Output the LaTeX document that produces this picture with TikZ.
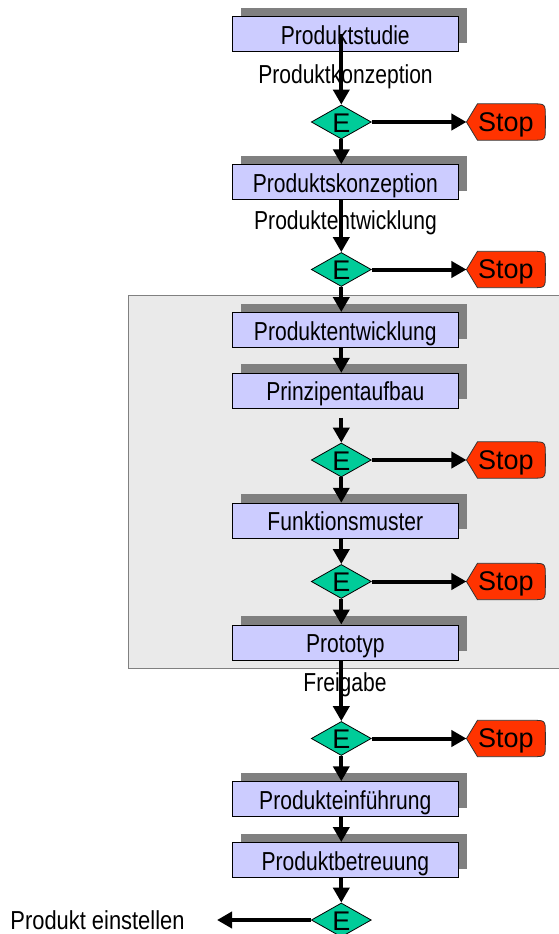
\documentclass[tikz,border=0pt]{standalone}
\usepackage{fontspec}
\setmainfont{Liberation Sans}
\newfontfamily\narrowsans{Liberation Sans}[FakeStretch=0.81]
\usetikzlibrary{arrows.meta,shapes.geometric,shadows,calc}
\definecolor{boxfill}{HTML}{CCCCFF}
\definecolor{shadowgray}{HTML}{808080}
\definecolor{decfill}{HTML}{00CC99}
\definecolor{stopfill}{HTML}{FF3300}
\definecolor{panelfill}{HTML}{EAEAEA}
\definecolor{panelline}{HTML}{808080}
\pgfdeclarelayer{panel}
\pgfdeclarelayer{signs}
\pgfsetlayers{panel,signs,main}
\newcommand{\decmark}{\raisebox{-10pt}[0pt][0pt]{\makebox[0pt]{E}}}

\begin{document}
\begin{tikzpicture}[x=1pt,y=-1pt,
  stagebox/.style={draw=black, line width=0.9pt, fill=boxfill,
    minimum width=226pt, minimum height=35pt, inner sep=0pt,
    text height=22pt, text depth=2pt,
    font=\narrowsans\fontsize{26}{30}\selectfont,
    general shadow={fill=shadowgray, shadow xshift=8.5pt, shadow yshift=9pt}},
  decision/.style={diamond, draw=black, line width=0.8pt, fill=decfill,
    minimum width=60pt, minimum height=34pt, inner sep=0pt,
    font=\fontsize{27}{30}\selectfont},
  stopsign/.style={minimum width=78.5pt, minimum height=36pt, inner sep=0pt,
    text height=20pt, text depth=2pt, font=\fontsize{27}{30}\selectfont},
  phase/.style={anchor=base, inner sep=0pt,
    font=\narrowsans\fontsize{26}{30}\selectfont},
  flow/.style={line width=4pt, -{Triangle[length=15pt,width=16pt]}}
]
\useasboundingbox (0,0) rectangle (558,934);

% development stage panel
\begin{pgfonlayer}{panel}
  \draw[panelline, fill=panelfill, line width=1pt] (128,295) rectangle (562,668);
\end{pgfonlayer}

% stage boxes
\node[stagebox] (b1) at (345.3,34.2)  {Produktstudie};
\node[stagebox] (b2) at (345.3,182.2) {Produktskonzeption};
\node[stagebox] (b3) at (345.3,330)   {Produktentwicklung};
\node[stagebox] (b4) at (345.3,390.8) {Prinzipentaufbau};
\node[stagebox] (b5) at (345.3,520.7) {Funktionsmuster};
\node[stagebox] (b6) at (345.3,642.5) {Prototyp};
\node[stagebox] (b7) at (345.3,799.2) {Produkteinführung};
\node[stagebox] (b8) at (345.3,860)   {Produktbetreuung};

% decisions
\node[decision] (d1) at (341.3,122)   {\decmark};
\node[decision] (d2) at (341.3,269.5) {\decmark};
\node[decision] (d3) at (341.3,460)   {\decmark};
\node[decision] (d4) at (341.3,581.5) {\decmark};
\node[decision] (d5) at (341.3,738.5) {\decmark};
\node[decision] (d6) at (341.3,920)   {\decmark};

% stop signs
\node[stopsign] (s1) at (505.9,122)   {Stop};
\node[stopsign] (s2) at (505.9,269.5) {Stop};
\node[stopsign] (s3) at (505.9,460)   {Stop};
\node[stopsign] (s4) at (505.9,581.5) {Stop};
\node[stopsign] (s5) at (505.9,738.5) {Stop};
\begin{pgfonlayer}{signs}
  \foreach \s in {s1,s2,s3,s4,s5}
    \draw[fill=stopfill, draw=black!80, line width=0.8pt]
      (\s.west) -- ($(\s.north west)+(11,0)$)
      -- ($(\s.north east)+(-13,0)$) .. controls (\s.north east) .. ($(\s.north east)+(0,13)$)
      -- ($(\s.south east)+(0,-13)$) .. controls (\s.south east) .. ($(\s.south east)+(-13,0)$)
      -- ($(\s.south west)+(11,0)$) -- cycle;
\end{pgfonlayer}

% phase labels
\node[phase] (l1) at (345.5,84)  {Produktkonzeption};
\node[phase] (l2) at (345.5,229) {Produktentwicklung};
\node[phase] (l3) at (345,691)   {Freigabe};
\node[phase, xscale=1.04] (l4) at (97.5,929)  {Produkt einstellen};
\coordinate (quit) at (217,920);

% main flow
\draw[flow] (b1.center -| d1) -- (d1.north);
\draw[flow] (d1.south) -- (d1 |- b2.north);
\draw[flow] (b2.south -| d2) -- (d2.north);
\draw[flow] (d2.south) -- (d2 |- b3.north);
\draw[flow] (b3.south -| d3) -- (b4.north -| d3);
\draw[flow, shorten <=9pt] (b4.south -| d3) -- (d3.north);
\draw[flow] (d3.south) -- (d3 |- b5.north);
\draw[flow] (b5.south -| d4) -- (d4.north);
\draw[flow] (d4.south) -- (d4 |- b6.north);
\draw[flow] (b6.south -| d5) -- (d5.north);
\draw[flow] (d5.south) -- (d5 |- b7.north);
\draw[flow] (b7.south -| d5) -- (b8.north -| d5);
\draw[flow] (b8.south -| d6) -- (d6.north);
\draw[flow] (d6.west) -- (quit);

% stop branches
\draw[flow] (d1.east) -- (s1.west);
\draw[flow] (d2.east) -- (s2.west);
\draw[flow] (d3.east) -- (s3.west);
\draw[flow] (d4.east) -- (s4.west);
\draw[flow] (d5.east) -- (s5.west);
\end{tikzpicture}
\end{document}
